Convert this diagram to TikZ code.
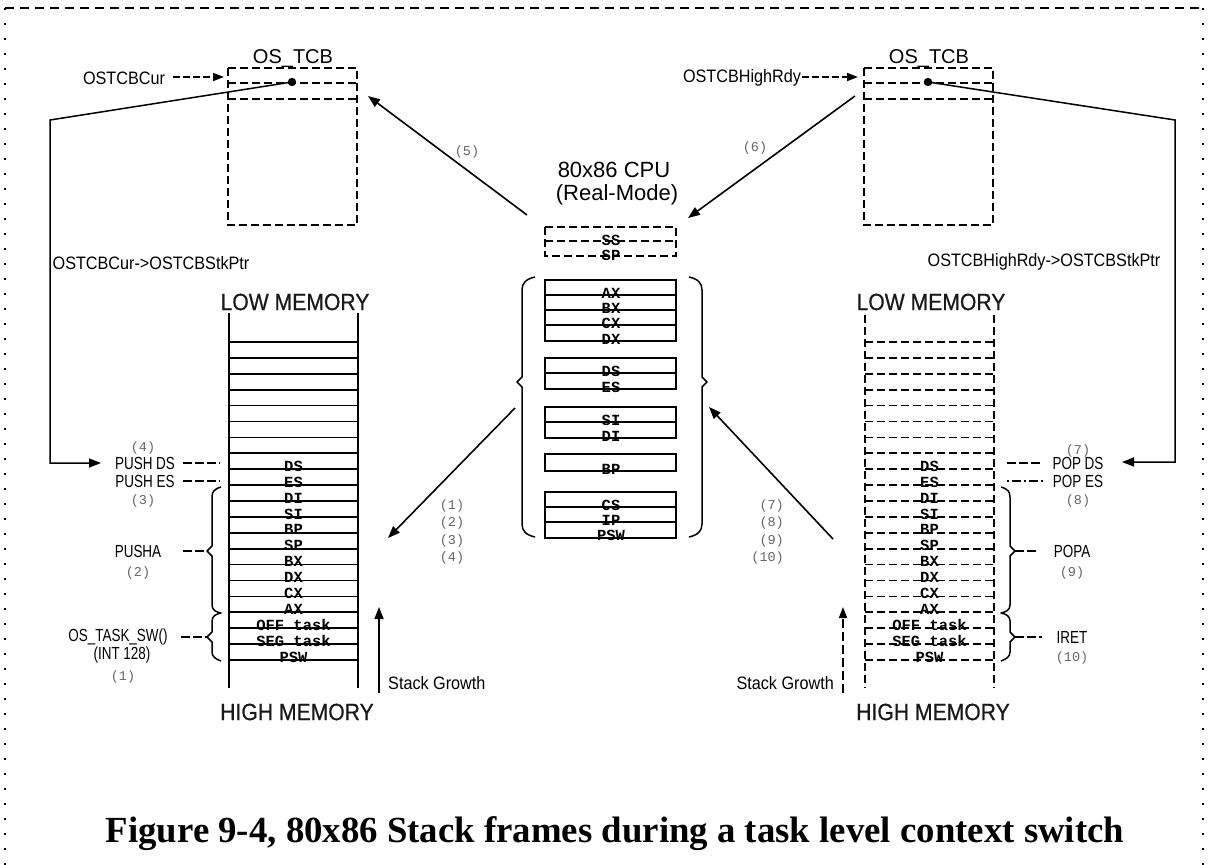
\documentclass[tikz,border=0pt]{standalone}
\usepackage{fontspec}
\usetikzlibrary{arrows.meta}
\newfontfamily\nsans[FakeStretch=0.9]{Liberation Sans}
\newfontfamily\bsans[FakeStretch=0.9,FakeBold=0.6]{Liberation Sans}
\newfontfamily\csans[FakeStretch=0.77]{Liberation Sans}
\newfontfamily\rsans{Liberation Sans}
\newfontfamily\monof{Liberation Mono}
\newfontfamily\capfont{Liberation Serif}
\begin{document}
\begin{tikzpicture}[x=1pt,y=-1pt,
  lbl/.style={font=\nsans\fontsize{18}{20}\selectfont, inner sep=0pt, text=black},
  clbl/.style={font=\csans\fontsize{17.5}{19}\selectfont, inner sep=0pt, text=black},
  big/.style={font=\bsans\fontsize{23.5}{26}\selectfont, inner sep=0pt, text=black!90},
  tcbt/.style={font=\rsans\fontsize{20}{22}\selectfont, inner sep=0pt, text=black},
  cput/.style={font=\rsans\fontsize{22}{24}\selectfont, inner sep=0pt, text=black},
  num/.style={font=\monof\fontsize{13.5}{15}\selectfont, inner sep=0pt, text=black!60},
  reg/.style={font=\monof\bfseries\fontsize{15.5}{16}\selectfont, inner sep=0pt},
  ln/.style={line width=1.7pt},
  thk/.style={line width=2.6pt},
  dsh/.style={line width=1.7pt, dash pattern=on 8pt off 4pt},
  arr/.style={line width=1.6pt, -{Triangle[length=12pt,width=9pt]}},
  dsharr/.style={line width=1.6pt, dash pattern=on 7pt off 3pt, -{Triangle[length=11pt,width=8pt]}},
  brc/.style={line width=1.5pt, line join=round},
]
\useasboundingbox (0,0) rectangle (1208,865);
\fill[white] (0,0) rectangle (1208,865);

% frame
\draw[line width=1.4pt, dash pattern=on 9pt off 6pt] (5,8) -- (1203,8);
\draw[line width=1.8pt, dash pattern=on 1.8pt off 13.2pt] (5,8) -- (5,865);
\draw[line width=1.8pt, dash pattern=on 1.8pt off 13.2pt] (1203,8) -- (1203,865);

% ---------- left OS_TCB ----------
\node[tcbt] (tcbLt) at (293,59) {OS\_TCB};
\draw[dsh] (228,68) rectangle (357,225);
\draw[dsh] (228,83) -- (357,83);
\draw[dsh] (228,99) -- (357,99);
\coordinate (dotL) at (292,82);
\fill (dotL) circle (4.2pt);
\node[lbl] (cur) at (124,78) {OSTCBCur};
\coordinate (curS) at (173,77);
\coordinate (tcbLin) at (224,77);
\draw[dsharr] (curS) -- (tcbLin);
\node[lbl] (curstk) at (151,263) {OSTCBCur->OSTCBStkPtr};

% ---------- right OS_TCB ----------
\node[tcbt] (tcbRt) at (929,59) {OS\_TCB};
\draw[dsh] (864,68) rectangle (993,225);
\draw[dsh] (864,83) -- (993,83);
\draw[dsh] (864,99) -- (993,99);
\coordinate (dotR) at (928,82);
\fill (dotR) circle (4.2pt);
\node[lbl] (hrdy) at (742,78) {OSTCBHighRdy};
\coordinate (hrdyS) at (802,77);
\coordinate (tcbRin) at (858,77);
\draw[dsharr] (hrdyS) -- (tcbRin);
\node[lbl] (hrdystk) at (1044,262) {OSTCBHighRdy->OSTCBStkPtr};

% ---------- CPU ----------
\node[cput] (cpu1) at (614,170) {80x86 CPU};
\node[cput] (cpu2) at (617,195) {(Real-Mode)};
\draw[dsh] (545,227) rectangle (676,256);
\draw[dsh] (545,241) -- (676,241);
\node[reg] (ss) at (611,240) {SS};
\node[reg] (sp) at (611,255) {SP};

\node[reg] (cax) at (611,293) {AX};
\node[reg] (cbx) at (611,308) {BX};
\node[reg] (ccx) at (611,323) {CX};
\node[reg] (cdx) at (611,339) {DX};
\node[reg] (cds) at (611,371) {DS};
\node[reg] (ces) at (611,387) {ES};
\node[reg] (csi) at (611,420) {SI};
\node[reg] (cdi) at (611,436) {DI};
\node[reg] (cbp) at (611,469) {BP};
\node[reg] (ccs) at (611,505) {CS};
\node[reg] (cip) at (611,520) {IP};
\node[reg] (cpsw) at (611,535) {PSW};

\draw[ln] (545,280) rectangle (676,341);
\draw[thk] (545,295) -- (676,295);
\draw[thk] (545,310) -- (676,310);
\draw[thk] (545,325) -- (676,325);
\draw[ln] (545,358) rectangle (676,389);
\draw[thk] (545,373) -- (676,373);
\draw[ln] (545,407) rectangle (676,438);
\draw[thk] (545,422) -- (676,422);
\draw[ln] (545,454) rectangle (676,471);
\draw[ln] (545,492) rectangle (676,538);
\draw[thk] (545,507) -- (676,507);
\draw[thk] (545,522) -- (676,522);

% CPU braces
\draw[brc] (535,277) .. controls (526,279) and (522,283) .. (522,290) -- (522,377) -- (517,382) -- (522,387) -- (522,524) .. controls (522,531) and (526,535) .. (535,537);
\draw[brc] (689,277) .. controls (698,279) and (702,283) .. (702,290) -- (702,377) -- (707,382) -- (702,387) -- (702,524) .. controls (702,531) and (698,535) .. (689,537);

% ---------- left stack ----------
\node[big] (lowL) at (295,302) {LOW MEMORY};
\node[big] (highL) at (297,712) {HIGH MEMORY};
\foreach \t [count=\j from 8] in {DS,ES,DI,SI,BP,SP,BX,DX,CX,AX,OFF task,SEG task,PSW}
  \node[reg] (L\j) at (293.5,{342+15.9*\j-3}) {\t};
\draw[ln] (229,313) -- (229,688);
\draw[ln] (358,313) -- (358,688);
\foreach \k in {0,...,20}
  \draw[ln] (229,{342+15.9*\k}) -- (358,{342+15.9*\k});

% ---------- right stack ----------
\node[big] (lowR) at (931,302) {LOW MEMORY};
\node[big] (highR) at (933,712) {HIGH MEMORY};
\foreach \t [count=\j from 8] in {DS,ES,DI,SI,BP,SP,BX,DX,CX,AX,OFF task,SEG task,PSW}
  \node[reg] (R\j) at (929.5,{342+15.9*\j-3}) {\t};
\draw[dsh] (865,315) -- (865,688);
\draw[dsh] (994,315) -- (994,688);
\foreach \k in {0,...,20}
  \draw[dsh] (865,{342+15.9*\k}) -- (994,{342+15.9*\k});

% ---------- left annotations ----------
\node[num] (n4) at (143,448) {(4)};
\node[clbl] (pds) at (145,463) {PUSH DS};
\node[clbl] (pes) at (145,481) {PUSH ES};
\node[num] (n3) at (143,501) {(3)};
\node[clbl] (pusha) at (138,551) {PUSHA};
\node[num] (n2) at (138,573) {(2)};
\node[clbl] (tsw) at (118,637) {OS\_TASK\_SW()};
\node[clbl] (int) at (122,655) {(INT 128)};
\node[num] (n1) at (123,677) {(1)};
\coordinate (pdsA) at (183,463); \coordinate (pdsB) at (220,463);
\coordinate (pesA) at (183,481); \coordinate (pesB) at (220,481);
\draw[dsh, dash pattern=on 9pt off 3pt] (pdsA) -- (pdsB);
\draw[dsh, dash pattern=on 9pt off 3pt] (pesA) -- (pesB);
\coordinate (pushaA) at (183,551); \coordinate (pushaB) at (207,551);
\draw[dsh, dash pattern=on 9pt off 3pt] (pushaA) -- (pushaB);
\coordinate (tswA) at (181,637); \coordinate (tswB) at (207,637);
\draw[dsh, dash pattern=on 9pt off 3pt] (tswA) -- (tswB);
\draw[brc] (221,487) .. controls (214,489) and (212,492) .. (212,497) -- (212,546) -- (207,551) -- (212,556) -- (212,605) .. controls (212,610) and (216,612) .. (221,613) .. controls (216,614) and (212,616) .. (212,621) -- (212,632) -- (207,637) -- (212,642) -- (212,652) .. controls (212,657) and (216,659) .. (221,661);

% ---------- right annotations ----------
\node[num] (n7) at (1078,451) {(7)};
\node[clbl] (pods) at (1078,463) {POP DS};
\node[clbl] (poes) at (1078,481) {POP ES};
\node[num] (n8) at (1078,501) {(8)};
\node[clbl] (popa) at (1072,551) {POPA};
\node[num] (n9) at (1072,573) {(9)};
\node[clbl] (iret) at (1072,637) {IRET};
\node[num] (n10) at (1072,658) {(10)};
\coordinate (podsA) at (1007,463); \coordinate (podsB) at (1043,463);
\coordinate (poesA) at (1007,481); \coordinate (poesB) at (1043,481);
\draw[dsh, dash pattern=on 9pt off 3pt] (podsA) -- (podsB);
\draw[dsh, dash pattern=on 2pt off 3pt on 9pt off 3pt] (poesA) -- (poesB);
\coordinate (popaA) at (1015,551); \coordinate (popaB) at (1039,551);
\draw[dsh, dash pattern=on 9pt off 3pt] (popaA) -- (popaB);
\coordinate (iretA) at (1015,637); \coordinate (iretB) at (1042,637);
\draw[dsh, dash pattern=on 9pt off 3pt] (iretA) -- (iretB);
\draw[brc] (1001,487) .. controls (1008,489) and (1010,492) .. (1010,497) -- (1010,546) -- (1015,551) -- (1010,556) -- (1010,605) .. controls (1010,610) and (1006,612) .. (1001,613) .. controls (1006,614) and (1010,616) .. (1010,621) -- (1010,632) -- (1015,637) -- (1010,642) -- (1010,652) .. controls (1010,657) and (1006,659) .. (1001,661);

% ---------- pointer lines ----------
\coordinate (bendL) at (50,120); \coordinate (downL) at (50,463); \coordinate (tipL) at (101,463);
\draw[arr, line width=1.5pt] (dotL) -- (bendL) -- (downL) -- (tipL);
\coordinate (bendR) at (1175,120); \coordinate (downR) at (1175,462); \coordinate (tipR) at (1122,462);
\draw[arr, line width=1.5pt] (dotR) -- (bendR) -- (downR) -- (tipR);

% ---------- CPU arrows ----------
\coordinate (a5s) at (527,215); \coordinate (a5e) at (368,96);
\draw[arr] (a5s) -- (a5e);
\node[num] (n5) at (467,152) {(5)};
\coordinate (a6s) at (855,96); \coordinate (a6e) at (688,218);
\draw[arr] (a6s) -- (a6e);
\node[num] (n6) at (755,148) {(6)};
\coordinate (a1s) at (515,408); \coordinate (a1e) at (388,538);
\draw[arr] (a1s) -- (a1e);
\node[num] (m1) at (452,506) {(1)};
\node[num] (m2) at (452,523) {(2)};
\node[num] (m3) at (452,541) {(3)};
\node[num] (m4) at (452,558) {(4)};
\coordinate (a7s) at (833,539); \coordinate (a7e) at (709,407);
\draw[arr] (a7s) -- (a7e);
\node[num, anchor=east] (m7) at (784,506) {(7)};
\node[num, anchor=east] (m8) at (784,523) {(8)};
\node[num, anchor=east] (m9) at (784,541) {(9)};
\node[num, anchor=east] (m10) at (784,558) {(10)};

% ---------- stack growth ----------
\coordinate (sgLs) at (379,693); \coordinate (sgLe) at (379,607);
\draw[arr] (sgLs) -- (sgLe);
\node[lbl, anchor=west] (sgL) at (388,683) {Stack Growth};
\coordinate (sgRs) at (843,693); \coordinate (sgRe) at (843,607);
\draw[dsharr, dash pattern=on 9pt off 4pt] (sgRs) -- (sgRe);
\node[lbl, anchor=east] (sgR) at (834,683) {Stack Growth};

% ---------- caption ----------
\node[font=\capfont\bfseries\fontsize{36.8}{40}\selectfont, inner sep=0pt, anchor=base] (cap) at (615,842) {Figure 9-4, 80x86 Stack frames during a task level context switch};
\end{tikzpicture}
\end{document}
